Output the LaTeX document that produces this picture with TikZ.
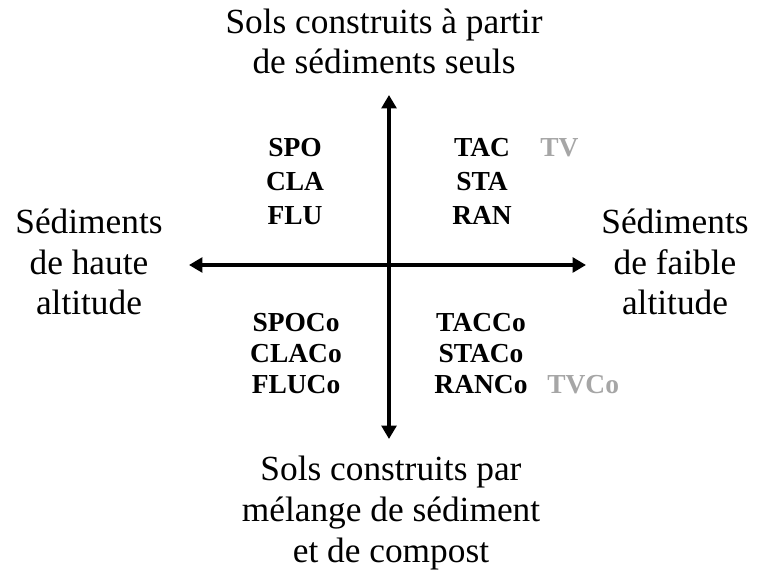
\documentclass[tikz,border=0pt]{standalone}
\usepackage{fontspec}
\setmainfont{Liberation Serif}
\usetikzlibrary{arrows.meta}
\definecolor{lightgrey}{RGB}{166,166,166}
\tikzset{
  axislabel/.style={font=\fontsize{26.5}{30.4}\selectfont, align=center, inner sep=0pt, anchor=base},
  codesup/.style={font=\bfseries\fontsize{20.6}{25.5}\selectfont, align=center, inner sep=0pt, anchor=base},
  codesdown/.style={font=\bfseries\fontsize{20.6}{23.2}\selectfont, align=center, inner sep=0pt, anchor=base},
  codegrey/.style={font=\bfseries\fontsize{20.6}{23}\selectfont, text=lightgrey, inner sep=0pt, anchor=base west},
  axis/.style={line width=3.6pt, {Triangle[length=10pt,width=11pt]}-{Triangle[length=10pt,width=11pt]}}
}
\begin{document}
\begin{tikzpicture}[x=0.75pt,y=-0.75pt]
\useasboundingbox (0,0) rectangle (764,577);
\coordinate (ytop) at (389,95);
\coordinate (ybot) at (389,439);
\coordinate (xleft) at (189,265);
\coordinate (xright) at (586,265);
\draw[axis] (ytop) -- (ybot);
\draw[axis] (xleft) -- (xright);
\node[axislabel] (top) at (384,74) {Sols construits à partir\\de sédiments seuls};
\node[axislabel] (bottom) at (391,562) {Sols construits par\\mélange de sédiment\\et de compost};
\node[axislabel] (left) at (89,315) {Sédiments\\de haute\\altitude};
\node[axislabel] (right) at (675,315) {Sédiments\\de faible\\altitude};
\node[codesup] (ul) at (295,225) {SPO\\CLA\\FLU};
\node[codesup] (ur) at (482,225) {TAC\\STA\\RAN};
\node[codesdown] (ll) at (296,393) {SPOCo\\CLACo\\FLUCo};
\node[codesdown] (lr) at (481,393) {TACCo\\STACo\\RANCo};
\node[codegrey] (tv) at (540,157) {TV};
\node[codegrey] (tvco) at (547,393) {TVCo};
\end{tikzpicture}
\end{document}
